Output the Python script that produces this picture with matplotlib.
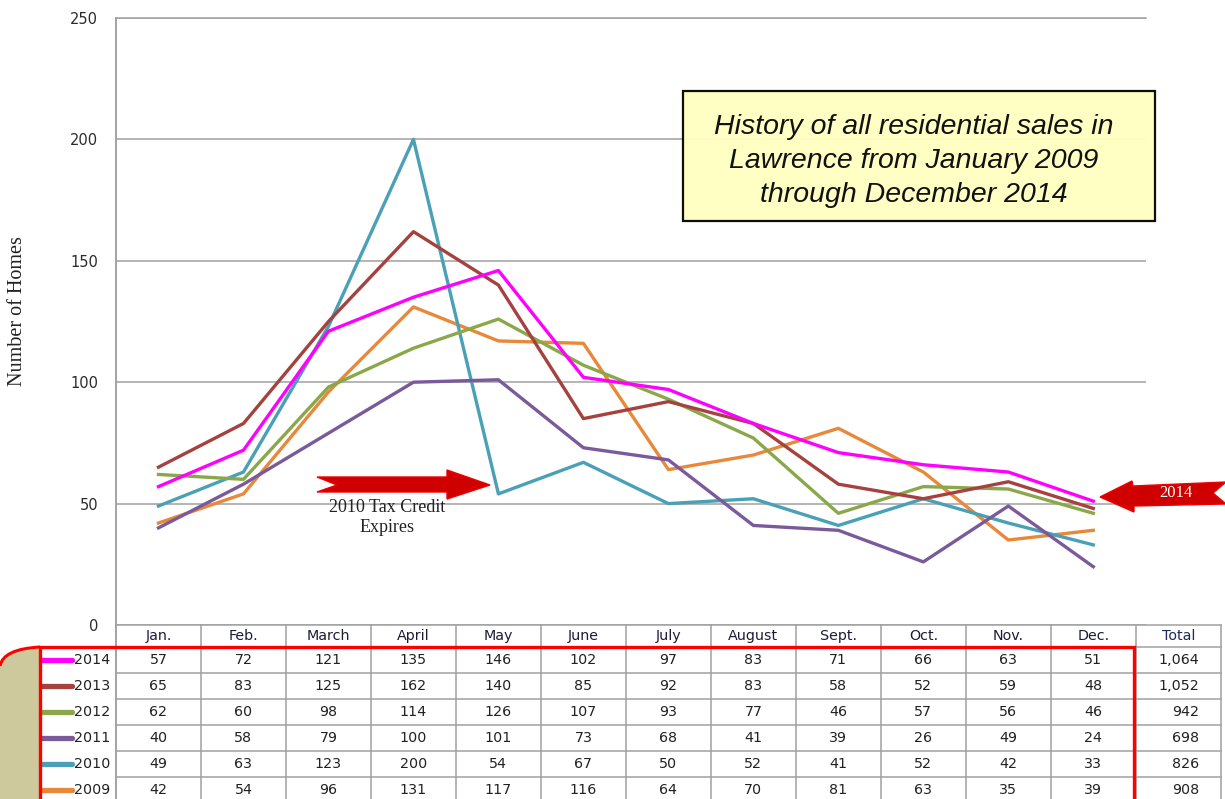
import matplotlib
matplotlib.use("Agg")
import matplotlib.pyplot as plt
from matplotlib.patches import Polygon, Rectangle, PathPatch
from matplotlib.path import Path
from matplotlib.transforms import blended_transform_factory

plt.rcParams['font.family'] = ['DejaVu Sans']

months = ["Jan.", "Feb.", "March", "April", "May", "June", "July",
          "August", "Sept.", "Oct.", "Nov.", "Dec."]
years = ["2014", "2013", "2012", "2011", "2010", "2009"]
sales_2014 = [57, 72, 121, 135, 146, 102, 97, 83, 71, 66, 63, 51]
sales_2013 = [65, 83, 125, 162, 140, 85, 92, 83, 58, 52, 59, 48]
sales_2012 = [62, 60, 98, 114, 126, 107, 93, 77, 46, 57, 56, 46]
sales_2011 = [40, 58, 79, 100, 101, 73, 68, 41, 39, 26, 49, 24]
sales_2010 = [49, 63, 123, 200, 54, 67, 50, 52, 41, 52, 42, 33]
sales_2009 = [42, 54, 96, 131, 117, 116, 64, 70, 81, 63, 35, 39]
totals = ["1,064", "1,052", "942", "698", "826", "908"]
colors = ["#ff00ff", "#a5423f", "#8aa84a", "#7a5a9a", "#4aa0b6", "#e8883a"]

series = [sales_2014, sales_2013, sales_2012, sales_2011, sales_2010, sales_2009]

W, H = 1225, 799
fig = plt.figure(figsize=(W / 100, H / 100), dpi=100, facecolor="white")

# main plot area, placed in pixels
ax = fig.add_axes([116 / W, (H - 625) / H, (1146 - 116) / W, (625 - 18) / H])
x = list(range(len(months)))
for vals, c in zip(series[::-1], colors[::-1]):
    ax.plot(x, vals, color=c, lw=2.4, solid_joinstyle="round", zorder=3)

ax.set_xlim(-0.5, 11.62)
ax.set_ylim(0, 250)
ax.set_yticks([0, 50, 100, 150, 200, 250])
ax.set_xticks([])
ax.tick_params(axis="y", length=0, pad=13, labelsize=10.5, labelcolor="#2b2b2b")
ax.yaxis.grid(True, color="#a0a0a0", lw=1.1)
ax.set_axisbelow(True)
for s in ["right", "bottom"]:
    ax.spines[s].set_visible(False)
ax.spines["left"].set_color("#a0a0a0")
ax.spines["left"].set_linewidth(1.1)
ax.spines["top"].set_color("#a0a0a0")
ax.spines["top"].set_linewidth(1.1)

fig.text(18 / W, 1 - 311 / H, "Number of Homes", rotation=90, ha="center",
         va="center", family="Liberation Serif", fontsize=14.5, color="#222222")

# overlay in pixel coordinates
ov = fig.add_axes([0, 0, 1, 1], zorder=5)
ov.set_xlim(0, W)
ov.set_ylim(H, 0)
ov.axis("off")
ov.patch.set_visible(False)

# data table under the chart (x from main axes, y in pixels)
tr = blended_transform_factory(ax.transData, ov.transData)
grid_c = "#a0a0a0"
row_tops = [625, 647, 673, 699, 725, 751, 777]
for yb in row_tops:
    ov.plot([-0.5, 12.5], [yb, yb], color=grid_c, lw=1.1, transform=tr, clip_on=False)
for k in range(len(months) + 2):
    ov.plot([k - 0.5, k - 0.5], [625, H], color=grid_c, lw=1.1, transform=tr, clip_on=False)
ov.plot([-0.5, -0.5], [18, H], color=grid_c, lw=1.1, transform=tr, clip_on=False)

for i, m in enumerate(months):
    ov.text(i, 636, m, ha="center", va="center", fontsize=10.3, color="#1c1c3a", transform=tr)
ov.text(12, 636, "Total", ha="center", va="center", fontsize=10.3, color="#1c2a5a", transform=tr)

row_centers = [660, 686, 712, 738, 764, 790]
for r, (yr, vals, c, tot) in enumerate(zip(years, series, colors, totals)):
    yc = row_centers[r]
    for i, v in enumerate(vals):
        ov.text(i, yc, str(v), ha="center", va="center", fontsize=10.3, color="#222222", transform=tr)
    ov.text(12.25, yc, tot, ha="right", va="center", fontsize=10.3, color="#222222", transform=tr)
    ov.plot([41, 72], [yc, yc], color=c, lw=3.8, solid_capstyle="round")
    ov.text(110, yc, yr, ha="right", va="center", fontsize=10.3, color="#222222")

# beige tab and red outline box
tab = Path([(0, H), (0, 666), (3, 649), (40, 647), (40, H), (0, H)],
           [Path.MOVETO, Path.LINETO, Path.CURVE3, Path.CURVE3, Path.LINETO, Path.CLOSEPOLY])
ov.add_patch(PathPatch(tab, facecolor="#cdc99c", edgecolor="none"))
curve = Path([(0, 666), (3, 649), (40, 647)], [Path.MOVETO, Path.CURVE3, Path.CURVE3])
ov.add_patch(PathPatch(curve, facecolor="none", edgecolor="#ff0000", lw=2.2))
ov.plot([40, 40, 1134, 1134], [H + 5, 647, 647, H + 5], color="#ff0000", lw=2.4,
        solid_joinstyle="miter")

# title box
ov.add_patch(Rectangle((683, 91), 472, 130, facecolor="#ffffc0", edgecolor="black",
                       lw=1.6, alpha=0.95, zorder=4))
ov.text(914, 161, "History of all residential sales in\nLawrence from January 2009\nthrough December 2014",
        ha="center", va="center", fontsize=20.5, style="italic", family="Liberation Sans",
        linespacing=1.38, color="#111111", zorder=5)

# arrow pointing at May
arrow1 = [(317, 477), (447, 477), (447, 470), (490, 485), (447, 499), (447, 492),
          (317, 492), (337, 485)]
ov.add_patch(Polygon(arrow1, closed=True, facecolor="#d00000", edgecolor="#ee0000", lw=1))
ov.text(387, 507, "2010 Tax Credit", ha="center", va="center", fontsize=13,
        family="Liberation Serif", color="#222222")
ov.text(387, 528, "Expires", ha="center", va="center", fontsize=13,
        family="Liberation Serif", color="#222222")

# arrow pointing at 2014 line
arrow2 = [(1100, 497), (1132, 481), (1133, 486), (1226, 482), (1213, 493),
          (1226, 504), (1134, 506), (1134, 512)]
ov.add_patch(Polygon(arrow2, closed=True, facecolor="#d00000", edgecolor="#ee0000", lw=1))
ov.text(1176, 493, "2014", ha="center", va="center", fontsize=12,
        family="Liberation Serif", color="white")

fig.savefig("out.png", dpi=100, facecolor="white")
